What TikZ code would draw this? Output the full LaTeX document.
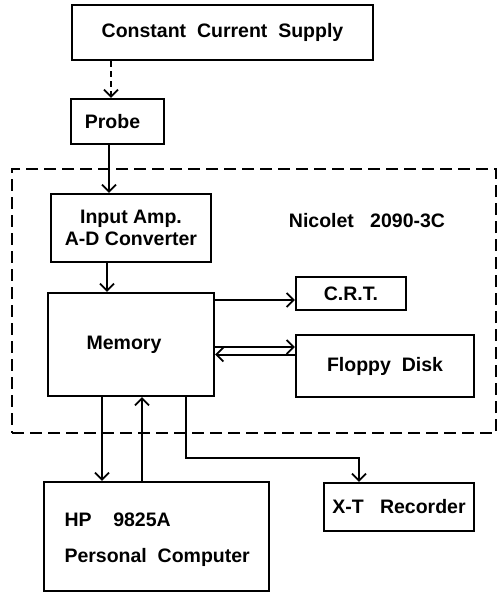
\documentclass[tikz,border=0pt]{standalone}
\usepackage{fontspec}
\setmainfont{Liberation Sans}
\usetikzlibrary{arrows.meta}
\begin{document}
\begin{tikzpicture}[x=1pt,y=-1pt,
  every node/.style={font=\fontsize{19.5}{22}\selectfont\bfseries},
  box/.style={draw,line width=2.2pt,rectangle,inner sep=0pt,align=center},
  conn/.style={line width=2pt,-{Straight Barb[length=7pt,width=14pt,line width=1.8pt]}},
  dashbox/.style={draw,line width=2.2pt,dash pattern=on 12pt off 6pt,rectangle,inner sep=0pt}]
\useasboundingbox (0,0) rectangle (500,592);
\node[dashbox,minimum width=484pt,minimum height=264pt] (nic) at (254,301) {};
\node[box,minimum width=301pt,minimum height=55pt] (ccs) at (222.5,32.5) {Constant\ \ Current\ \ Supply};
\node[box,minimum width=93pt,minimum height=45pt] (probe) at (117.5,121.5) {Probe\hspace{10pt}};
\node[box,minimum width=160pt,minimum height=68pt] (inp) at (131,228) {Input Amp.\\A-D Converter};
\node (niclabel) at (367,221) {Nicolet\ \ \ 2090-3C};
\node[box,minimum width=166pt,minimum height=103pt] (mem) at (131,344.5) {Memory\hspace{14pt}};
\node[box,minimum width=110pt,minimum height=33pt] (crt) at (351,293.5) {C.R.T.};
\node[box,minimum width=178pt,minimum height=62pt] (fd) at (385,366) {Floppy\ \ Disk};
\node[box,minimum width=150pt,minimum height=48pt] (xt) at (399,507) {X-T\ \ \ Recorder};
\node[box,minimum width=225pt,minimum height=109pt] (hp) at (156.5,536.5) {};
\node[anchor=west] (hp1) at (61,520) {HP\ \ \ \ 9825A};
\node[anchor=west] (hp2) at (61,557) {Personal\ \ Computer};
% connectors
\coordinate (a1) at ([xshift=-6.5pt]probe.north);
\draw[conn,dash pattern=on 6pt off 4pt] (ccs.south -| a1) -- (a1);
\coordinate (a2) at ([xshift=-22pt]inp.north);
\draw[conn] (probe.south -| a2) -- (a2);
\coordinate (a3) at ([xshift=-24pt]mem.north);
\draw[conn] (inp.south -| a3) -- (a3);
\coordinate (a4) at ([yshift=-6.5pt]crt.west);
\draw[conn] (mem.east |- a4) -- (a4);
\coordinate (a5) at ([yshift=19pt]fd.west);
\draw[conn] (mem.east |- a5) -- (a5);
\coordinate (a6) at ([yshift=-10pt]mem.east);
\draw[conn] (fd.west |- a6) -- (a6);
\coordinate (a7) at ([xshift=-54.5pt]hp.north);
\draw[conn] (mem.south -| a7) -- (a7);
\coordinate (a8) at ([xshift=11pt]mem.south);
\draw[conn] (hp.north -| a8) -- (a8);
\coordinate (b1) at ([xshift=55pt]mem.south);
\coordinate (b2) at ([yshift=-61pt]b1);
\coordinate (a9) at ([xshift=-40pt]xt.north);
\draw[conn] (b1) -- (b2) -| (a9);
\end{tikzpicture}
\end{document}
